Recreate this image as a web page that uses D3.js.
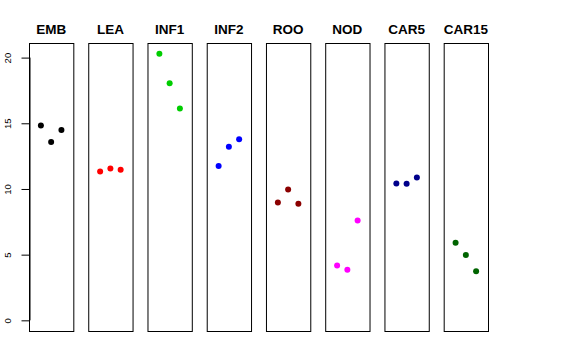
<!DOCTYPE html>
<html><head><meta charset="utf-8">
<script src="https://cdn.jsdelivr.net/npm/d3@7"></script>
<style>body{margin:0;background:#fff}svg{display:block}text{font-family:"Liberation Sans",Arial,Helvetica,sans-serif}</style>
</head><body>
<script>
const categories = ["EMB","LEA","INF1","INF2","ROO","NOD","CAR5","CAR15"];
const colors = ["#000000","#FF0000","#00CD00","#0000FF","#8B0000","#FF00FF","#00008B","#006400"];
const values = [
  [14.83, 13.57, 14.48],
  [11.33, 11.56, 11.46],
  [20.30, 18.05, 16.12],
  [11.74, 13.21, 13.79],
  [8.97, 9.96, 8.87],
  [4.18, 3.86, 7.60],
  [10.42, 10.40, 10.87],
  [5.91, 4.97, 3.73]
];
const yTicks = [0, 5, 10, 15, 20];

const W = 576, H = 360;
const svg = d3.select("body").append("svg").attr("width", W).attr("height", H);

const band = d3.scaleBand().domain(categories).range([29, 488]).paddingInner(0.252).paddingOuter(0);
const ymax = d3.max(values.flat()), ymin = 0;
const ext = (ymax - ymin) * 0.04;
const y = d3.scaleLinear().domain([ymin - ext, ymax + ext]).range([331, 43]);
const x = d3.scaleLinear().domain([-0.16, 4.16]).range([0, band.bandwidth()]);

categories.forEach((c, i) => {
  const g = svg.append("g").attr("transform", `translate(${band(c)},0)`);
  g.append("rect")
    .attr("x", 0.5).attr("y", 43.5)
    .attr("width", band.bandwidth()).attr("height", 331 - 43)
    .attr("fill", "none").attr("stroke", "#000").attr("stroke-width", 1);
  g.selectAll("circle").data(values[i]).join("circle")
    .attr("cx", (d, j) => x(j + 1)).attr("cy", d => y(d))
    .attr("r", 3).attr("fill", colors[i]);
  g.append("text").attr("x", band.bandwidth() / 2).attr("y", 34)
    .attr("text-anchor", "middle").attr("font-weight", "bold").attr("font-size", 13.5)
    .text(c);
});

const axis = d3.axisLeft(y).tickValues(yTicks).tickSize(8).tickSizeOuter(0).tickPadding(0).tickFormat(d3.format("d"));
const ag = svg.append("g").attr("transform", `translate(${band(categories[0]) + 0.5},0)`).call(axis);
ag.select(".domain").attr("d", `M0.5,${y(0)}V${y(20)}`).attr("stroke", "#000");
ag.selectAll(".tick line").attr("stroke", "#000");
ag.selectAll(".tick text")
  .attr("font-size", 9.5).attr("font-family", '"Liberation Sans",Arial,sans-serif')
  .attr("text-anchor", "middle").attr("dy", null).attr("x", null)
  .attr("transform", "translate(-18.5,0) rotate(-90)")
  .attr("fill", "#000");
</script>
</body></html>
